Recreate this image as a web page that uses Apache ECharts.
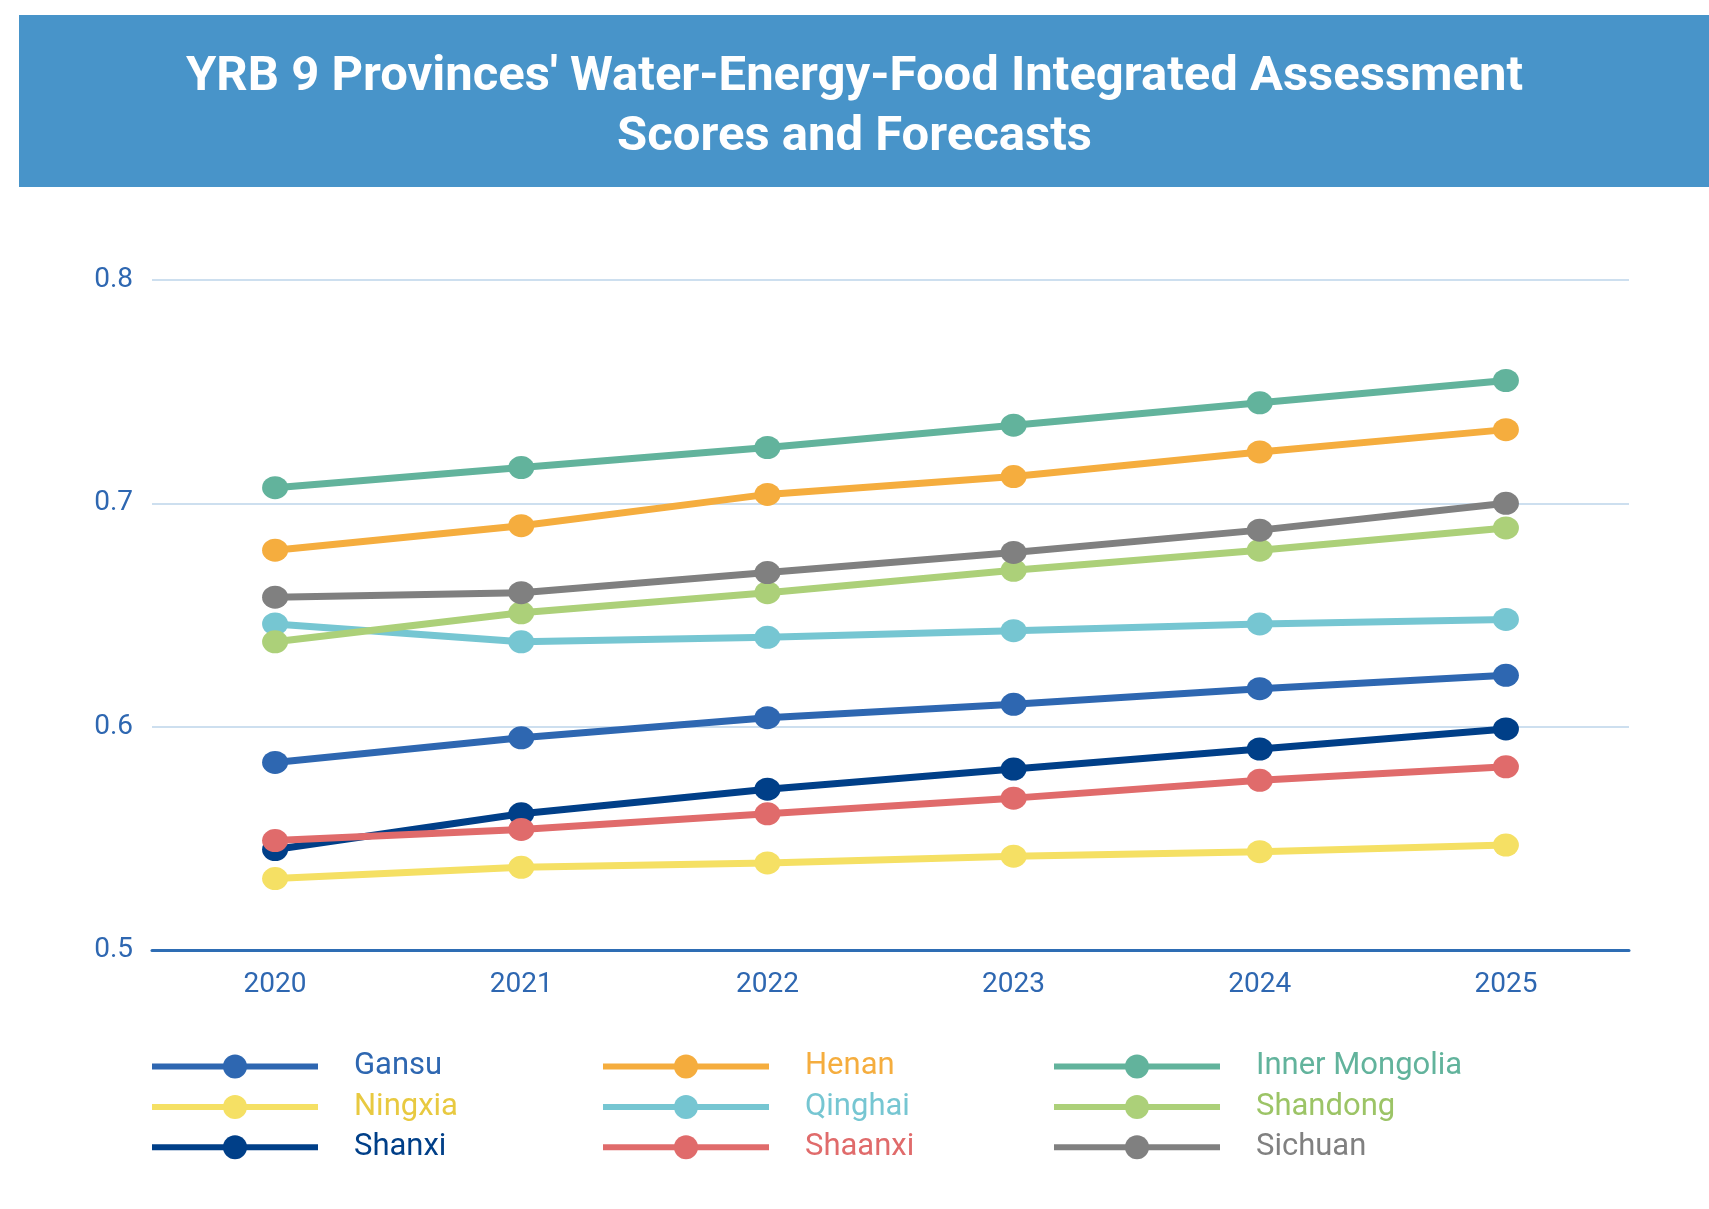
<!DOCTYPE html>
<html>
<head>
<meta charset="utf-8">
<script src="https://cdn.jsdelivr.net/npm/echarts@6/dist/echarts.min.js"></script>
<style>
html,body{margin:0;padding:0;background:#fff;}
#chart{width:1709px;height:1209px;}
</style>
</head>
<body>
<div id="chart"></div>
<script>
const titleLines = ["YRB 9 Provinces' Water-Energy-Food Integrated Assessment", "Scores and Forecasts"];
const years = ["2020", "2021", "2022", "2023", "2024", "2025"];
const provinces = ["Gansu", "Henan", "Inner Mongolia", "Ningxia", "Qinghai", "Shandong", "Shanxi", "Shaanxi", "Sichuan"];
const gansu = [0.584, 0.595, 0.604, 0.610, 0.617, 0.623];
const henan = [0.679, 0.690, 0.704, 0.712, 0.723, 0.733];
const innerMongolia = [0.707, 0.716, 0.725, 0.735, 0.745, 0.755];
const ningxia = [0.532, 0.537, 0.539, 0.542, 0.544, 0.547];
const qinghai = [0.646, 0.638, 0.640, 0.643, 0.646, 0.648];
const shandong = [0.638, 0.651, 0.660, 0.670, 0.679, 0.689];
const shanxi = [0.545, 0.561, 0.572, 0.581, 0.590, 0.599];
const shaanxi = [0.549, 0.554, 0.561, 0.568, 0.576, 0.582];
const sichuan = [0.658, 0.660, 0.669, 0.678, 0.688, 0.700];
const yTicks = [0.5, 0.6, 0.7, 0.8];

const values = [gansu, henan, innerMongolia, ningxia, qinghai, shandong, shanxi, shaanxi, sichuan];
const colors = ["#2e67b1", "#f5ad3e", "#62b39c", "#f5e064", "#76c6d2", "#acd079", "#003f88", "#e06b6b", "#808080"];
const textColors = ["#2e67b1", "#f5ad3e", "#62b39c", "#e8c940", "#76c6d2", "#9cc466", "#003f88", "#e06b6b", "#808080"];

const chart = echarts.init(document.getElementById('chart'), null, {renderer: 'canvas'});

const legends = provinces.map((p, i) => ({
  data: [p],
  left: 149 + (i % 3) * 451,
  top: 1051 + Math.floor(i / 3) * 40.4,
  orient: 'horizontal',
  itemWidth: 166,
  itemHeight: 30,
  padding: 0,
  lineStyle: {width: 6},
  textStyle: {color: textColors[i], fontSize: 31, fontFamily: 'Roboto', padding: [0, 0, 0, 31]}
}));

chart.setOption({
  animation: false,
  backgroundColor: '#fff',
  graphic: [{
    type: 'rect', left: 19, top: 15, z: -1,
    shape: {width: 1690, height: 172},
    style: {fill: '#4894c9'}
  }],
  title: {
    text: titleLines.join('\n'),
    left: 'center',
    top: 48,
    padding: 0,
    textStyle: {color: '#fff', fontSize: 49, fontWeight: 'bold', fontFamily: 'Roboto', lineHeight: 60}
  },
  legend: legends,
  grid: {left: 152, right: 80, top: 280, bottom: 259, containLabel: false},
  xAxis: {
    type: 'category',
    data: years,
    boundaryGap: true,
    axisLine: {show: true, lineStyle: {color: '#2e6db4', width: 3}},
    axisTick: {show: false},
    axisLabel: {color: '#2e67b1', fontSize: 28, fontFamily: 'Roboto', margin: 21}
  },
  yAxis: {
    type: 'value',
    min: yTicks[0], max: yTicks[yTicks.length - 1], interval: 0.1,
    axisLine: {show: false},
    axisTick: {show: false},
    axisLabel: {color: '#2e67b1', fontSize: 28, fontFamily: 'Roboto', margin: 19,
      formatter: v => Number(v).toFixed(1)},
    splitLine: {lineStyle: {color: '#bcd5ea', width: 1.5}}
  },
  series: provinces.map((p, i) => ({
    name: p,
    type: 'line',
    data: values[i],
    symbol: 'circle',
    symbolSize: [26, 23],
    showSymbol: true,
    itemStyle: {color: colors[i]},
    lineStyle: {color: colors[i], width: 7}
  }))
});
</script>
</body>
</html>
